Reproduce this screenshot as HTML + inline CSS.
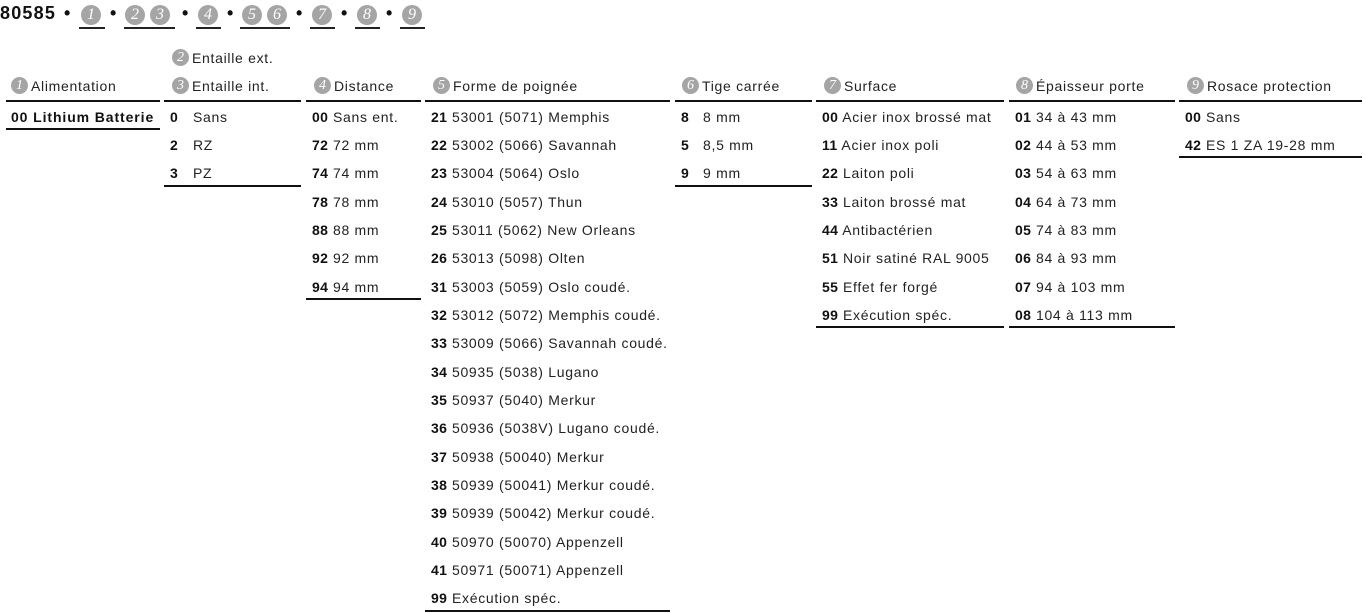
<!DOCTYPE html><html><head><meta charset="utf-8"><style>
body{margin:0;width:1366px;height:613px;background:#fff;position:relative;overflow:hidden;font-family:"Liberation Sans",sans-serif;color:#222}
.a{position:absolute;white-space:nowrap;font-size:14px;line-height:20px;letter-spacing:0.7px}
b{font-weight:bold;color:#111;letter-spacing:0.4px}
.c{display:inline-block;width:17px;height:17px;border-radius:50%;background:#a5a5a5;color:#fff;font-family:"Liberation Serif",serif;font-style:italic;font-size:14px;line-height:17px;text-align:center;vertical-align:middle;margin-right:3px;margin-top:-3px;letter-spacing:0}
.h .c{width:20px;height:20px;line-height:20px;font-size:16px;margin-right:5px}
.l{position:absolute;height:2px;background:#111}
.u{position:absolute;height:1.5px;background:#222;top:27px}
.bt{position:absolute;top:2px;font-size:18px;font-weight:bold;color:#111;line-height:22px}
</style></head><body>
<div class="bt" style="left:0;letter-spacing:1.2px">80585</div>
<div class="bt" style="left:64px">•</div>
<div class="a h" style="left:81px;top:5px"><span class="c">1</span></div><div class="u" style="left:79px;width:26px"></div>
<div class="bt" style="left:110px">•</div>
<div class="a h" style="left:125px;top:5px"><span class="c">2</span><span class="c">3</span></div><div class="u" style="left:124px;width:51px"></div>
<div class="bt" style="left:182px">•</div>
<div class="a h" style="left:198px;top:5px"><span class="c">4</span></div><div class="u" style="left:196px;width:25px"></div>
<div class="bt" style="left:227px">•</div>
<div class="a h" style="left:242px;top:5px"><span class="c">5</span><span class="c">6</span></div><div class="u" style="left:240px;width:50px"></div>
<div class="bt" style="left:296px">•</div>
<div class="a h" style="left:312px;top:5px"><span class="c">7</span></div><div class="u" style="left:310px;width:25px"></div>
<div class="bt" style="left:341px">•</div>
<div class="a h" style="left:357px;top:5px"><span class="c">8</span></div><div class="u" style="left:355px;width:25px"></div>
<div class="bt" style="left:386px">•</div>
<div class="a h" style="left:402px;top:5px"><span class="c">9</span></div><div class="u" style="left:400px;width:25px"></div>

<div class="a" style="left:172px;top:48px"><span class="c">2</span>Entaille ext.</div>
<div class="a" style="left:11px;top:76px"><span class="c">1</span>Alimentation</div>
<div class="a" style="left:172px;top:76px"><span class="c">3</span>Entaille int.</div>
<div class="a" style="left:314px;top:76px"><span class="c">4</span>Distance</div>
<div class="a" style="left:433px;top:76px"><span class="c">5</span>Forme de poignée</div>
<div class="a" style="left:682px;top:76px"><span class="c">6</span>Tige carrée</div>
<div class="a" style="left:824px;top:76px"><span class="c">7</span>Surface</div>
<div class="a" style="left:1016px;top:76px"><span class="c">8</span>Épaisseur porte</div>
<div class="a" style="left:1187px;top:76px"><span class="c">9</span>Rosace protection</div>

<div class="l" style="left:6px;width:154px;top:100px"></div>
<div class="l" style="left:164px;width:137px;top:100px"></div>
<div class="l" style="left:306px;width:115px;top:100px"></div>
<div class="l" style="left:425px;width:245px;top:100px"></div>
<div class="l" style="left:675px;width:137px;top:100px"></div>
<div class="l" style="left:816px;width:188px;top:100px"></div>
<div class="l" style="left:1009px;width:166px;top:100px"></div>
<div class="l" style="left:1179px;width:183px;top:100px"></div>

<div class="a" style="left:11px;top:107px"><b style="letter-spacing:0.9px">00 Lithium Batterie</b></div>
<div class="l" style="left:6px;width:154px;top:128px"></div>

<div class="a" style="left:170px;top:107px"><b>0</b></div><div class="a" style="left:193px;top:107px">Sans</div>
<div class="a" style="left:170px;top:135px"><b>2</b></div><div class="a" style="left:193px;top:135px">RZ</div>
<div class="a" style="left:170px;top:163px"><b>3</b></div><div class="a" style="left:193px;top:163px">PZ</div>
<div class="l" style="left:164px;width:137px;top:185px"></div>

<div class="a" style="left:312px;top:107px"><b>00</b> Sans ent.</div>
<div class="a" style="left:312px;top:135px"><b>72</b> 72 mm</div>
<div class="a" style="left:312px;top:163px"><b>74</b> 74 mm</div>
<div class="a" style="left:312px;top:192px"><b>78</b> 78 mm</div>
<div class="a" style="left:312px;top:220px"><b>88</b> 88 mm</div>
<div class="a" style="left:312px;top:248px"><b>92</b> 92 mm</div>
<div class="a" style="left:312px;top:277px"><b>94</b> 94 mm</div>
<div class="l" style="left:306px;width:115px;top:298px"></div>

<div class="a" style="left:431px;top:107px"><b>21</b> 53001 (5071) Memphis</div>
<div class="a" style="left:431px;top:135px"><b>22</b> 53002 (5066) Savannah</div>
<div class="a" style="left:431px;top:163px"><b>23</b> 53004 (5064) Oslo</div>
<div class="a" style="left:431px;top:192px"><b>24</b> 53010 (5057) Thun</div>
<div class="a" style="left:431px;top:220px"><b>25</b> 53011 (5062) New Orleans</div>
<div class="a" style="left:431px;top:248px"><b>26</b> 53013 (5098) Olten</div>
<div class="a" style="left:431px;top:277px"><b>31</b> 53003 (5059) Oslo coudé.</div>
<div class="a" style="left:431px;top:305px"><b>32</b> 53012 (5072) Memphis coudé.</div>
<div class="a" style="left:431px;top:333px"><b>33</b> 53009 (5066) Savannah coudé.</div>
<div class="a" style="left:431px;top:362px"><b>34</b> 50935 (5038) Lugano</div>
<div class="a" style="left:431px;top:390px"><b>35</b> 50937 (5040) Merkur</div>
<div class="a" style="left:431px;top:418px"><b>36</b> 50936 (5038V) Lugano coudé.</div>
<div class="a" style="left:431px;top:447px"><b>37</b> 50938 (50040) Merkur</div>
<div class="a" style="left:431px;top:475px"><b>38</b> 50939 (50041) Merkur coudé.</div>
<div class="a" style="left:431px;top:503px"><b>39</b> 50939 (50042) Merkur coudé.</div>
<div class="a" style="left:431px;top:532px"><b>40</b> 50970 (50070) Appenzell</div>
<div class="a" style="left:431px;top:560px"><b>41</b> 50971 (50071) Appenzell</div>
<div class="a" style="left:431px;top:588px"><b>99</b> Exécution spéc.</div>
<div class="l" style="left:425px;width:245px;top:610px"></div>

<div class="a" style="left:681px;top:107px"><b>8</b></div><div class="a" style="left:703px;top:107px">8 mm</div>
<div class="a" style="left:681px;top:135px"><b>5</b></div><div class="a" style="left:703px;top:135px">8,5 mm</div>
<div class="a" style="left:681px;top:163px"><b>9</b></div><div class="a" style="left:703px;top:163px">9 mm</div>
<div class="l" style="left:675px;width:137px;top:185px"></div>

<div class="a" style="left:822px;top:107px"><b>00</b> Acier inox brossé mat</div>
<div class="a" style="left:822px;top:135px"><b>11</b> Acier inox poli</div>
<div class="a" style="left:822px;top:163px"><b>22</b> Laiton poli</div>
<div class="a" style="left:822px;top:192px"><b>33</b> Laiton brossé mat</div>
<div class="a" style="left:822px;top:220px"><b>44</b> Antibactérien</div>
<div class="a" style="left:822px;top:248px"><b>51</b> Noir satiné RAL 9005</div>
<div class="a" style="left:822px;top:277px"><b>55</b> Effet fer forgé</div>
<div class="a" style="left:822px;top:305px"><b>99</b> Exécution spéc.</div>
<div class="l" style="left:816px;width:188px;top:326px"></div>

<div class="a" style="left:1015px;top:107px"><b>01</b> 34 à 43 mm</div>
<div class="a" style="left:1015px;top:135px"><b>02</b> 44 à 53 mm</div>
<div class="a" style="left:1015px;top:163px"><b>03</b> 54 à 63 mm</div>
<div class="a" style="left:1015px;top:192px"><b>04</b> 64 à 73 mm</div>
<div class="a" style="left:1015px;top:220px"><b>05</b> 74 à 83 mm</div>
<div class="a" style="left:1015px;top:248px"><b>06</b> 84 à 93 mm</div>
<div class="a" style="left:1015px;top:277px"><b>07</b> 94 à 103 mm</div>
<div class="a" style="left:1015px;top:305px"><b>08</b> 104 à 113 mm</div>
<div class="l" style="left:1009px;width:166px;top:326px"></div>

<div class="a" style="left:1185px;top:107px"><b>00</b> Sans</div>
<div class="a" style="left:1185px;top:135px"><b>42</b> ES 1 ZA 19-28 mm</div>
<div class="l" style="left:1179px;width:183px;top:156px"></div>
</body></html>
